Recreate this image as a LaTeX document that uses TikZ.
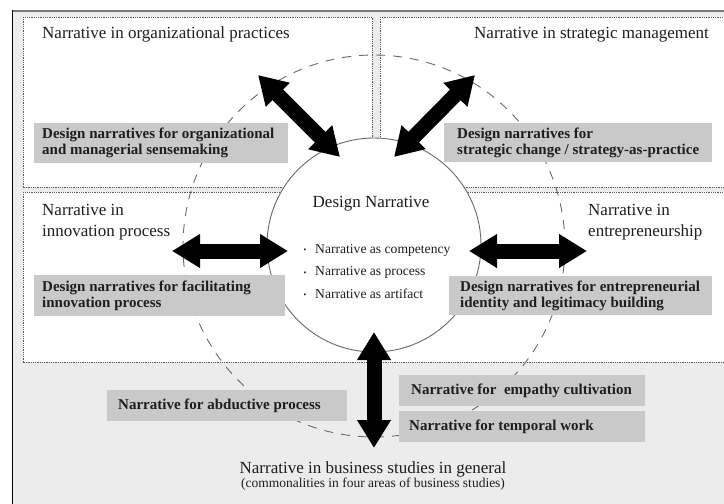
\documentclass[tikz,border=0pt]{standalone}
\usepackage{fontspec}
\setmainfont{Liberation Serif}
\usetikzlibrary{arrows.meta}

\definecolor{bg}{RGB}{236,236,236}
\definecolor{boxgray}{RGB}{201,201,201}
\definecolor{ink}{RGB}{30,30,30}
\definecolor{ring}{RGB}{105,105,105}
\definecolor{dotline}{RGB}{90,90,90}
\definecolor{frametop}{RGB}{120,120,120}

\tikzset{
  area/.style={draw=dotline, fill=white, line width=0.7pt, dash pattern=on 0.9pt off 0.9pt},
  lab/.style={inner sep=0pt, text=ink, align=left, font=\fontsize{17}{21}\selectfont},
  sublab/.style={inner sep=0pt, text=ink, font=\fontsize{13.5}{16}\selectfont},
  item/.style={inner sep=0pt, text=ink, anchor=base west, font=\fontsize{13.6}{16}\selectfont},
  dot/.style={inner sep=0pt, text=ink, anchor=base, font=\fontsize{8}{8}\selectfont},
  gbox/.style={fill=boxgray, anchor=north west, inner sep=0pt},
  btext/.style={anchor=west, inner sep=0pt, align=left, text=ink,
    font=\bfseries\fontsize{15}{16}\selectfont},
  core/.style={circle, draw=ring, fill=white, line width=0.9pt, minimum size=214pt, inner sep=0pt},
  orbit/.style={draw=ring, line width=0.9pt, dash pattern=on 9pt off 8pt},
  link/.style={draw=black, line width=15pt,
    {Triangle[width=32pt,length=28pt]}-{Triangle[width=32pt,length=28pt]}}
}

\begin{document}
\begin{tikzpicture}[x=1pt,y=-1pt]
\useasboundingbox (0,0) rectangle (724,504);

% page background and frame
\fill[bg] (12,10) rectangle (724,504);
\draw[frametop, line width=2pt] (12,11) -- (724,11);
\draw[black, line width=0.9pt] (12,10) -- (12,504);

% the four areas of business studies
\draw[area] (23,17) rectangle (372,187);
\draw[area] (380,17) rectangle (727,187);
\draw[area] (23,192) rectangle (372,362);
\draw[area] (380,192) rectangle (727,362);

% outer dashed orbit
\draw[orbit] (374,246) circle [radius=191pt];

% central circle
\node[core] (dn) at (374,245) {};

% grey design-narrative boxes
\node[gbox, minimum width=254pt, minimum height=40pt] (bOrg) at (34,123) {};
\node[gbox, minimum width=268pt, minimum height=39pt] (bStr) at (444,123) {};
\node[gbox, minimum width=251pt, minimum height=41pt] (bInn) at (34,275) {};
\node[gbox, minimum width=263pt, minimum height=39pt] (bEnt) at (449,276) {};
\node[gbox, minimum width=240pt, minimum height=31pt] (bAbd) at (107,390) {};
\node[gbox, minimum width=246pt, minimum height=31pt] (bEmp) at (399,375) {};
\node[gbox, minimum width=246pt, minimum height=31pt] (bTmp) at (399,411) {};

\node[btext] (tOrg) at ([xshift=8pt]bOrg.west) {Design narratives for organizational\\and managerial sensemaking};
\node[btext] (tStr) at ([xshift=13pt]bStr.west) {Design narratives for\\strategic change / strategy-as-practice};
\node[btext] (tInn) at ([xshift=8pt]bInn.west) {Design narratives for facilitating\\innovation process};
\node[btext] (tEnt) at ([xshift=11pt]bEnt.west) {Design narratives for entrepreneurial\\identity and legitimacy building};
\node[btext] (tAbd) at ([xshift=11pt]bAbd.west) {Narrative for abductive process};
\node[btext] (tEmp) at ([xshift=12pt]bEmp.west) {Narrative for~ empathy cultivation};
\node[btext] (tTmp) at ([xshift=10pt]bTmp.west) {Narrative for temporal work};

% area labels
\node[lab, anchor=base west] (lOrg) at (42,38) {Narrative in organizational practices};
\node[lab, anchor=base east] (lStr) at (709,38) {Narrative in strategic management};
\node[lab, anchor=base west] (lInn) at (42,236) {Narrative in\\innovation process};
\node[lab, anchor=base west] (lEnt) at (588,236) {Narrative in\\entrepreneurship};
\node[lab, anchor=base] (lGen) at (373,473) {Narrative in business studies in general};
\node[sublab, anchor=base] (lCom) at (373,487) {(commonalities in four areas of business studies)};

% contents of the circle
\node[lab, anchor=base] (dnTitle) at (371,207) {Design Narrative};
\node[dot] (d1) at (305,252) {•};
\node[dot] (d2) at (305,275) {•};
\node[dot] (d3) at (305,297) {•};
\node[item] (i1) at (315,253) {Narrative as competency};
\node[item] (i2) at (315,275) {Narrative as process};
\node[item] (i3) at (315,298) {Narrative as artifact};

% arrow end points
\coordinate (aOrg) at (258,75);   \coordinate (cOrg) at (340,157);
\coordinate (aStr) at (475,75);   \coordinate (cStr) at (394,157);
\coordinate (aInn) at (172,251);  \coordinate (cInn) at (288,251);
\coordinate (aEnt) at (587,251);  \coordinate (cEnt) at (469,251);
\coordinate (aGen) at (374,448);  \coordinate (cGen) at (374,332);

% two-way links between the core and each area
\draw[link] (aOrg) -- (cOrg);
\draw[link] (aStr) -- (cStr);
\draw[link] (aInn) -- (cInn);
\draw[link] (aEnt) -- (cEnt);
\draw[link] (aGen) -- (cGen);
\end{tikzpicture}
\end{document}
